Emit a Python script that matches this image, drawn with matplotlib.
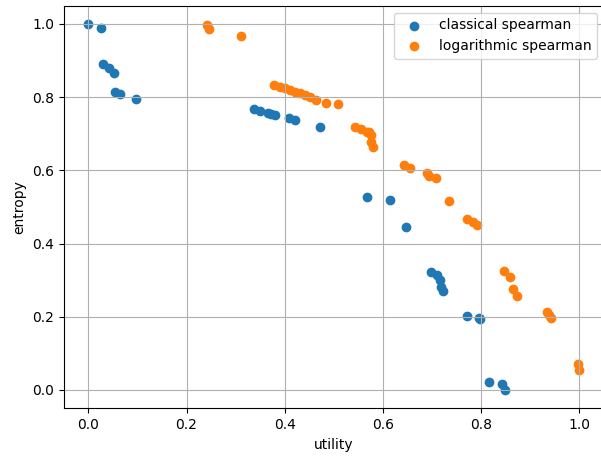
import matplotlib
matplotlib.use('Agg')
import matplotlib.pyplot as plt

# classical spearman (utility, entropy)
classical_utility = [0.0, 0.025, 0.029, 0.042, 0.053, 0.055, 0.065, 0.097,
                     0.337, 0.35, 0.365, 0.372, 0.38, 0.408, 0.42, 0.472,
                     0.568, 0.614, 0.646,
                     0.697, 0.711, 0.716, 0.718, 0.723,
                     0.772, 0.796, 0.798, 0.815, 0.843, 0.849]
classical_entropy = [1.0, 0.989, 0.891, 0.879, 0.867, 0.814, 0.808, 0.796,
                     0.767, 0.762, 0.756, 0.754, 0.75, 0.744, 0.738, 0.719,
                     0.527, 0.519, 0.444,
                     0.321, 0.314, 0.301, 0.282, 0.271,
                     0.202, 0.198, 0.194, 0.023, 0.016, 0.0]

# logarithmic spearman
log_utility = [0.242, 0.245, 0.311,
               0.378, 0.391, 0.401, 0.411, 0.421, 0.431, 0.442, 0.452, 0.464,
               0.485, 0.509,
               0.543, 0.556, 0.568, 0.571, 0.575, 0.576, 0.58,
               0.643, 0.655, 0.69, 0.694, 0.708, 0.734,
               0.771, 0.783, 0.791,
               0.847, 0.858, 0.864, 0.873,
               0.933, 0.938, 0.943, 0.997, 1.0]
log_entropy = [0.997, 0.985, 0.967,
               0.833, 0.829, 0.824, 0.82, 0.815, 0.811, 0.806, 0.8, 0.792,
               0.783, 0.781,
               0.718, 0.712, 0.706, 0.704, 0.697, 0.678, 0.665,
               0.614, 0.607, 0.594, 0.585, 0.58, 0.515,
               0.467, 0.46, 0.451,
               0.326, 0.31, 0.276, 0.257,
               0.214, 0.205, 0.196, 0.07, 0.055]

fig, ax = plt.subplots(figsize=(6.01, 4.59), dpi=100)
# the reference is cropped a little past the right spine
fig.subplots_adjust(left=0.106, right=1.005, top=0.9876, bottom=0.1105)

ax.scatter(classical_utility, classical_entropy, label='classical spearman')
ax.scatter(log_utility, log_entropy, label='logarithmic spearman')

ax.set_xlabel('utility')
ax.set_ylabel('entropy')
ax.grid(True)
ax.legend()

plt.savefig('out.png')
